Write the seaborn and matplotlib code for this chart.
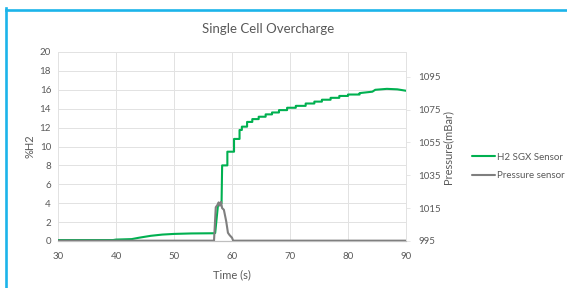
import matplotlib
matplotlib.use("Agg")
import matplotlib.pyplot as plt
from matplotlib.lines import Line2D
import seaborn as sns
import pandas as pd

# ---- data ----
h2_time = [30, 39.5, 40, 42.7, 44, 46, 48, 50, 53, 56.9, 57.1, 57.6, 58.2, 58.3,
           59.2, 59.2, 60.35, 60.35, 61.3, 61.3, 61.7, 61.7, 62.6, 62.6, 63.5, 63.5,
           64.6, 64.6, 65.8, 65.8, 66.9, 66.9, 68.1, 68.1, 69.5, 69.5, 71, 71,
           72.7, 72.7, 74.2, 74.2, 75.5, 75.5, 77, 77, 78.5, 78.5, 80, 80, 82, 82,
           84.2, 84.7, 86.7, 88.5, 90]
h2_pct = [0.1, 0.1, 0.15, 0.2, 0.35, 0.55, 0.68, 0.75, 0.8, 0.82, 0.85, 3.9, 4.0, 8.0,
          8.0, 9.45, 9.45, 10.8, 10.8, 11.75, 11.75, 12.1, 12.1, 12.6, 12.6, 12.9,
          12.9, 13.15, 13.15, 13.4, 13.4, 13.6, 13.6, 13.85, 13.85, 14.1, 14.1, 14.3,
          14.3, 14.55, 14.55, 14.75, 14.75, 14.95, 14.95, 15.15, 15.15, 15.35, 15.35, 15.5, 15.5, 15.65,
          15.8, 16.0, 16.1, 16.05, 15.9]

p_time = [30, 56.9, 57.2, 57.5, 57.7, 57.9, 58.1, 58.3, 58.6, 59.0, 59.3, 59.6, 60.0, 60.2, 90]
p_mbar = [995.2, 995.2, 1015.5, 1017, 1018.5, 1016.5, 1018.8, 1015, 1014, 1007, 1000,
          998.5, 997, 995.2, 995.2]

title = "Single Cell Overcharge"
xlabel = "Time (s)"
ylabel_left = "%H2"
ylabel_right = "Pressure(mBar)"
series_names = ["H2 SGX Sensor", "Pressure sensor"]
x_ticks = [30, 40, 50, 60, 70, 80, 90]
left_ticks = [0, 2, 4, 6, 8, 10, 12, 14, 16, 18, 20]
right_ticks = [995, 1015, 1035, 1055, 1075, 1095]

df_h2 = pd.DataFrame({"t": h2_time, "v": h2_pct})
df_p = pd.DataFrame({"t": p_time, "v": p_mbar})

sns.set_style("white")
plt.rcParams["font.family"] = ["Lato", "DejaVu Sans"]

W, H = 567, 288
fig = plt.figure(figsize=(W / 100, H / 100), dpi=100)
ax = fig.add_axes([58 / W, 1 - 241 / H, (406 - 58) / W, (241 - 52) / H])
ax2 = ax.twinx()

green = "#00B050"
gray = "#7F7F7F"
txt = "#595959"
grid = "#E2E2E2"

sns.lineplot(data=df_h2, x="t", y="v", ax=ax, color=green, linewidth=1.5,
             sort=False, estimator=None, legend=False, zorder=3)
sns.lineplot(data=df_p, x="t", y="v", ax=ax2, color=gray, linewidth=1.5,
             sort=False, estimator=None, legend=False, zorder=3)

ax.set_xlim(30, 90)
ax.set_ylim(0, 20)
ax2.set_ylim(995, 1110)
ax.set_xticks(x_ticks)
ax.set_yticks(left_ticks)
ax2.set_yticks(right_ticks)

ax.grid(True, color=grid, linewidth=0.7)
ax.set_axisbelow(True)
ax2.grid(False)

for a in (ax, ax2):
    for s in ("top", "left"):
        a.spines[s].set_visible(False)
    a.spines["bottom"].set_color("#BFBFBF")
    a.spines["right"].set_color(grid)
    a.spines["right"].set_linewidth(0.7)
ax.spines["right"].set_visible(False)

ax.tick_params(axis="y", colors=txt, labelsize=7, length=0, pad=5)
ax.tick_params(axis="x", colors=txt, labelsize=7, length=0, pad=8)
ax2.tick_params(axis="y", colors=txt, labelsize=7, length=3, width=0.6,
                color=grid, pad=6)

ax.set_xlabel(xlabel, color=txt, fontsize=8, labelpad=6)
ax.set_ylabel(ylabel_left, color=txt, fontsize=8, labelpad=3)
ax2.set_ylabel(ylabel_right, color=txt, fontsize=8, labelpad=1)

fig.text(268 / W, 1 - 29 / H, title, ha="center", va="center",
         fontsize=9.5, color=txt)

handles = [Line2D([], [], color=green, linewidth=1.5),
           Line2D([], [], color=gray, linewidth=1.5)]
fig.legend(handles, series_names, loc="center left",
           bbox_to_anchor=(472 / W, 1 - 166.5 / H), frameon=False,
           fontsize=7, handlelength=2.4, handletextpad=0.2, labelspacing=0.95,
           borderpad=0, borderaxespad=0, labelcolor=txt)

border = "#1CB4EA"
fig.add_artist(Line2D([6 / W, 6 / W], [0, 1 - 8.2 / H], transform=fig.transFigure,
                      color=border, linewidth=1.9, solid_capstyle="projecting"))
fig.add_artist(Line2D([6 / W, 1], [1 - 9.5 / H, 1 - 9.5 / H], transform=fig.transFigure,
                      color=border, linewidth=1.9, solid_capstyle="projecting"))

fig.savefig("out.png", dpi=100, facecolor="white")
